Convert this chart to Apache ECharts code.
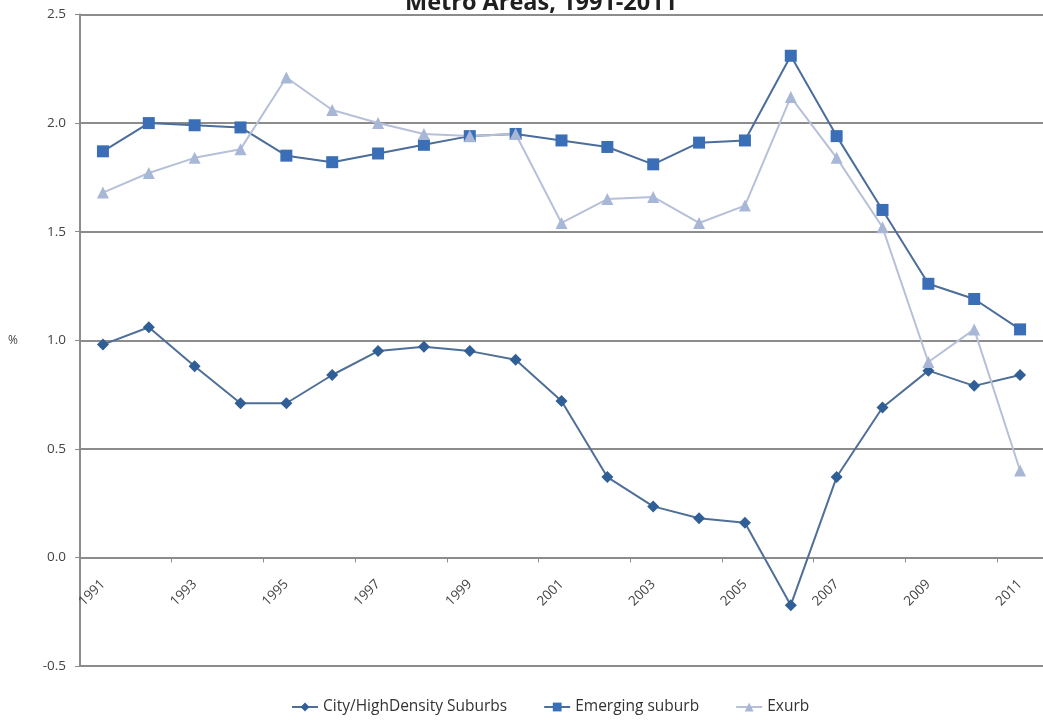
<!DOCTYPE html>
<html>
<head>
<meta charset="utf-8">
<title>Metro Areas, 1991-2011</title>
<script src="https://cdn.jsdelivr.net/npm/echarts@6/dist/echarts.min.js"></script>
<style>
  html, body { margin: 0; padding: 0; background: #ffffff; }
  #chart { width: 1043px; height: 724px; }
</style>
</head>
<body>
<div id="chart"></div>
<script>
// Annual growth (%) by area type
const years = ['1991','1992','1993','1994','1995','1996','1997','1998','1999','2000',
               '2001','2002','2003','2004','2005','2006','2007','2008','2009','2010','2011'];

const cityHighDensity = [0.98, 1.06, 0.88, 0.71, 0.71, 0.84, 0.95, 0.97, 0.95, 0.91,
                         0.72, 0.37, 0.235, 0.18, 0.16, -0.22, 0.37, 0.69, 0.86, 0.79, 0.84];

const emergingSuburb = [1.87, 2.00, 1.99, 1.98, 1.85, 1.82, 1.86, 1.90, 1.94, 1.95,
                        1.92, 1.89, 1.81, 1.91, 1.92, 2.31, 1.94, 1.60, 1.26, 1.19, 1.05];

const exurb = [1.68, 1.77, 1.84, 1.88, 2.21, 2.06, 2.00, 1.95, 1.94, 1.95,
               1.54, 1.65, 1.66, 1.54, 1.62, 2.12, 1.84, 1.52, 0.90, 1.05, 0.40];

const yTicks = { min: -0.5, max: 2.5, step: 0.5 };

const font = '"Open Sans", Lato, "Liberation Sans", sans-serif';

const chart = echarts.init(document.getElementById('chart'), null, { renderer: 'canvas' });

function lineSeries(name, data, symbol, size, markerColor, lineColor) {
  return {
    name: name,
    type: 'line',
    data: data,
    symbol: symbol,
    symbolSize: size,
    showAllSymbol: true,
    itemStyle: { color: markerColor, borderWidth: 0 },
    lineStyle: { color: lineColor, width: 2 },
    emphasis: { disabled: true },
    animation: false
  };
}

chart.setOption({
  animation: false,
  backgroundColor: '#ffffff',
  title: {
    text: 'Metro Areas, 1991-2011',
    left: 400,
    top: -14,
    textStyle: { fontFamily: font, fontSize: 23.5, fontWeight: 'bold', color: '#1f1f1f' }
  },
  legend: {
    bottom: 4,
    left: 286,
    itemGap: 36,
    itemWidth: 26,
    itemHeight: 11,
    textStyle: { fontFamily: font, fontSize: 15.5, color: '#333' },
    data: ['City/HighDensity Suburbs', 'Emerging suburb', 'Exurb']
  },
  grid: { left: 80, right: -6, top: 14.5, bottom: 58, containLabel: false },
  xAxis: {
    type: 'category',
    data: years,
    boundaryGap: true,
    axisLine: { onZero: true, lineStyle: { color: '#8c8c8c', width: 2 } },
    axisTick: { show: true, interval: 1, length: 5, inside: false, lineStyle: { color: '#8c8c8c', width: 1 } },
    axisLabel: {
      interval: 1,
      rotate: 45,
      margin: -84,
      fontFamily: font,
      fontSize: 13.5,
      color: '#444'
    },
    splitLine: { show: false }
  },
  yAxis: {
    type: 'value',
    min: yTicks.min,
    max: yTicks.max,
    interval: yTicks.step,
    name: '%',
    nameLocation: 'middle',
    nameRotate: 0,
    nameGap: 62,
    nameTextStyle: { fontFamily: font, fontSize: 12, color: '#444' },
    axisLine: { show: true, lineStyle: { color: '#8c8c8c', width: 2 } },
    axisTick: { show: true, length: 5, lineStyle: { color: '#8c8c8c', width: 1 } },
    axisLabel: {
      margin: 14,
      fontFamily: font,
      fontSize: 13.5,
      color: '#444',
      formatter: v => v.toFixed(1)
    },
    splitLine: { show: true, lineStyle: { color: '#8c8c8c', width: 2 } }
  },
  series: [
    lineSeries('City/HighDensity Suburbs', cityHighDensity, 'diamond', 12, '#2f5f96', '#4f6f98'),
    lineSeries('Emerging suburb', emergingSuburb, 'rect', 12, '#3a6fb7', '#4a6d9c'),
    lineSeries('Exurb', exurb, 'triangle', 12, '#a9b7d7', '#b6c0d8')
  ]
});
</script>
</body>
</html>
